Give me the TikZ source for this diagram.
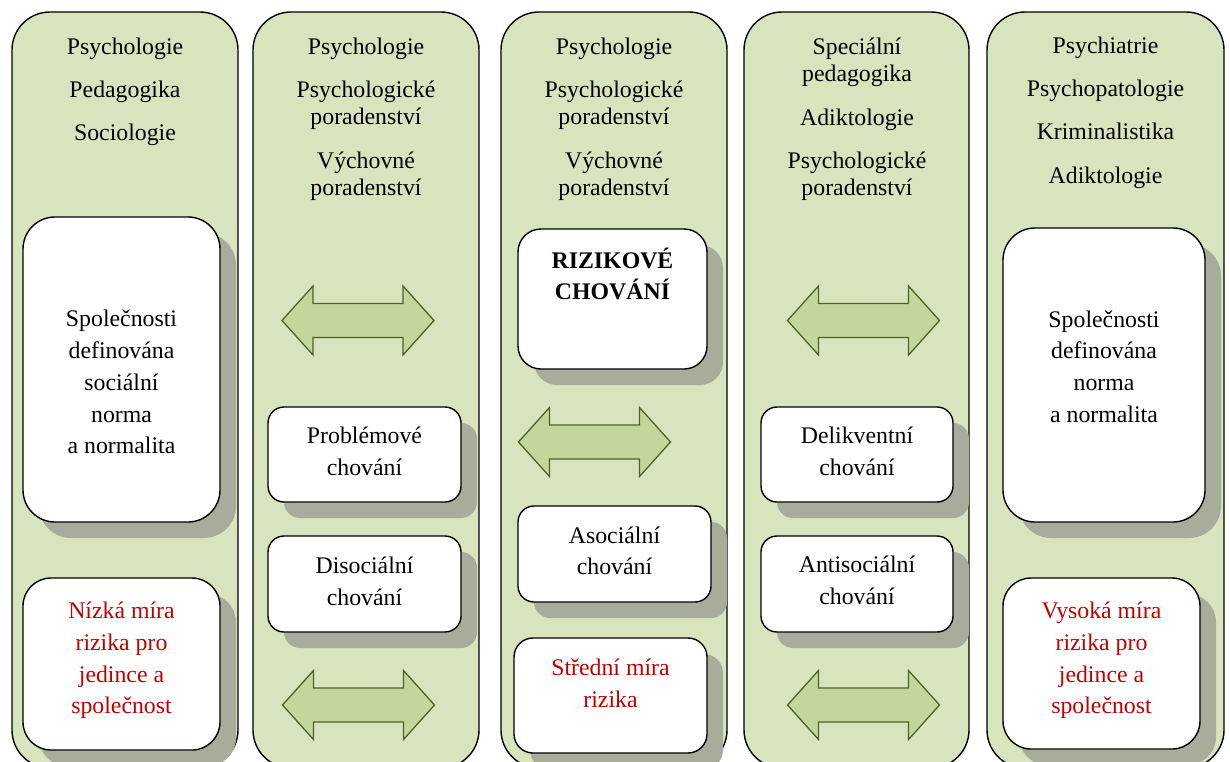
\documentclass[tikz,border=0pt]{standalone}
\usepackage{fontspec}
\setmainfont{Liberation Serif}
\usetikzlibrary{shadows}
\definecolor{colfill}{HTML}{D7E4BD}
\definecolor{arrfill}{HTML}{C3D69B}
\definecolor{arrline}{HTML}{4F6228}
\definecolor{shadowc}{HTML}{A8AD9B}
\definecolor{redtxt}{HTML}{C00000}
\begin{document}
\begin{tikzpicture}[x=1pt,y=-1pt,
  column/.style={draw=black, line width=1.4pt, fill=colfill, rounded corners=38pt, inner sep=0pt},
  box/.style={draw=black, line width=1.4pt, fill=white, inner sep=0pt,
    drop shadow={shadow xshift=16pt, shadow yshift=-16pt, fill=shadowc, opacity=1}},
  txt/.style={anchor=base, inner sep=0pt, font=\fontsize{23.8}{28}\selectfont},
  redt/.style={txt, text=redtxt},
  boldt/.style={txt, font=\fontsize{23.8}{28}\selectfont\bfseries},
  dblarrow/.pic={\draw[fill=arrfill, draw=arrline, line width=1.3pt, line join=miter]
    (-76,0) -- (-45,-34.5) -- (-45,-17) -- (45,-17) -- (45,-34.5) -- (76,0)
    -- (45,34.5) -- (45,17) -- (-45,17) -- (-45,34.5) -- cycle;}
]
\useasboundingbox (0,0) rectangle (1230,761);
\clip (0,0) rectangle (1230,761);

% columns
\node[column, minimum width=226pt, minimum height=756pt] (col1) at (125,390) {};
\node[column, minimum width=226pt, minimum height=756pt] (col2) at (366,390) {};
\node[column, minimum width=226pt, minimum height=756pt] (col3) at (614,390) {};
\node[column, minimum width=225pt, minimum height=756pt] (col4) at (856.5,390) {};
\node[column, minimum width=237pt, minimum height=756pt] (col5) at (1105.5,390) {};

% headers
\node[txt] (h1a) at (125,54) {Psychologie};
\node[txt] (h1b) at (125,97) {Pedagogika};
\node[txt] (h1c) at (125,140) {Sociologie};

\node[txt] (h2a) at (366,54) {Psychologie};
\node[txt] (h2b) at (366,97) {Psychologické};
\node[txt] (h2c) at (366,124) {poradenství};
\node[txt] (h2d) at (366,168) {Výchovné};
\node[txt] (h2e) at (366,195) {poradenství};

\node[txt] (h3a) at (614,54) {Psychologie};
\node[txt] (h3b) at (614,97) {Psychologické};
\node[txt] (h3c) at (614,124) {poradenství};
\node[txt] (h3d) at (614,168) {Výchovné};
\node[txt] (h3e) at (614,195) {poradenství};

\node[txt] (h4a) at (857,54) {Speciální};
\node[txt] (h4b) at (857,81) {pedagogika};
\node[txt] (h4c) at (857,125) {Adiktologie};
\node[txt] (h4d) at (857,168) {Psychologické};
\node[txt] (h4e) at (857,195) {poradenství};

\node[txt] (h5a) at (1105.5,53) {Psychiatrie};
\node[txt] (h5b) at (1105.5,96) {Psychopatologie};
\node[txt] (h5c) at (1105.5,139) {Kriminalistika};
\node[txt] (h5d) at (1105.5,183) {Adiktologie};

% boxes
\node[box, rounded corners=32pt, minimum width=197pt, minimum height=305pt] (b1big) at (121.5,369.5) {};
\node[box, rounded corners=28pt, minimum width=197pt, minimum height=172pt] (b1red) at (121.5,664) {};
\node[box, rounded corners=16pt, minimum width=193pt, minimum height=95pt] (b2prob) at (364.5,454.5) {};
\node[box, rounded corners=16pt, minimum width=193pt, minimum height=96pt] (b2dis) at (364.5,584) {};
\node[box, rounded corners=23pt, minimum width=189pt, minimum height=140pt] (b3riz) at (612.5,299) {};
\node[box, rounded corners=16pt, minimum width=193pt, minimum height=96pt] (b3aso) at (614.5,554) {};
\node[box, rounded corners=19pt, minimum width=193pt, minimum height=115pt] (b3str) at (610.5,695.5) {};
\node[box, rounded corners=16pt, minimum width=192pt, minimum height=95pt] (b4del) at (857,454.5) {};
\node[box, rounded corners=16pt, minimum width=192pt, minimum height=96pt] (b4anti) at (857,584) {};
\node[box, rounded corners=32pt, minimum width=202pt, minimum height=294pt] (b5big) at (1104,375) {};
\node[box, rounded corners=28pt, minimum width=197pt, minimum height=171pt] (b5red) at (1101.5,663.5) {};

% box texts
\node[txt] (t1a) at (121.5,326) {Společnosti};
\node[txt] (t1b) at (121.5,358) {definována};
\node[txt] (t1c) at (121.5,390) {sociální};
\node[txt] (t1d) at (121.5,422) {norma};
\node[txt] (t1e) at (121.5,453) {a normalita};

\node[redt] (r1a) at (121.5,618) {Nízká míra};
\node[redt] (r1b) at (121.5,650) {rizika pro};
\node[redt] (r1c) at (121.5,682) {jedince a};
\node[redt] (r1d) at (121.5,713) {společnost};

\node[txt] (t2a) at (364.5,443) {Problémové};
\node[txt] (t2b) at (364.5,475) {chování};
\node[txt] (t2c) at (364.5,573) {Disociální};
\node[txt] (t2d) at (364.5,605) {chování};

\node[boldt] (t3a) at (612.5,268) {RIZIKOVÉ};
\node[boldt] (t3b) at (612.5,299) {CHOVÁNÍ};
\node[txt] (t3c) at (614.5,543) {Asociální};
\node[txt] (t3d) at (614.5,574) {chování};
\node[redt] (r3a) at (610.5,675) {Střední míra};
\node[redt] (r3b) at (610.5,707) {rizika};

\node[txt] (t4a) at (857,443) {Delikventní};
\node[txt] (t4b) at (857,475) {chování};
\node[txt] (t4c) at (857,572) {Antisociální};
\node[txt] (t4d) at (857,604) {chování};

\node[txt] (t5a) at (1104,327) {Společnosti};
\node[txt] (t5b) at (1104,358) {definována};
\node[txt] (t5c) at (1104,390) {norma};
\node[txt] (t5d) at (1104,422) {a normalita};

\node[redt] (r5a) at (1101.5,618) {Vysoká míra};
\node[redt] (r5b) at (1101.5,650) {rizika pro};
\node[redt] (r5c) at (1101.5,682) {jedince a};
\node[redt] (r5d) at (1101.5,713) {společnost};

% double arrows
\coordinate (a2top) at (358,320.5);
\coordinate (a2bot) at (358.5,705);
\coordinate (a3mid) at (594.5,442);
\coordinate (a4top) at (863.5,320.5);
\coordinate (a4bot) at (863.5,705);
\pic at (a2top) {dblarrow};
\pic at (a2bot) {dblarrow};
\pic at (a3mid) {dblarrow};
\pic at (a4top) {dblarrow};
\pic at (a4bot) {dblarrow};
\end{tikzpicture}
\end{document}
